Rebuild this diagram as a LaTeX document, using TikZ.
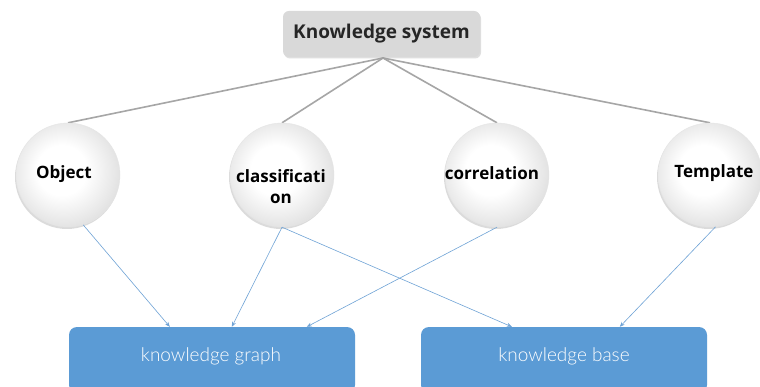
\documentclass[tikz,border=0pt]{standalone}
\usepackage{fontspec}
\setmainfont{Open Sans}
\newfontfamily\lightfont{Lato}[UprightFont=* Light]
\usetikzlibrary{shadows,calc,arrows.meta}
\pgfdeclarelayer{paper}
\pgfdeclarelayer{background}
\pgfsetlayers{paper,background,main}
\pgfdeclareradialshading{orb}{\pgfpoint{-4bp}{3bp}}{%
  color(0bp)=(white); color(12bp)=(white); color(24bp)=(black!9);
  color(30bp)=(black!14); color(50bp)=(black!14)}
\definecolor{rootgray}{HTML}{D9D9D9}
\definecolor{linkgray}{HTML}{A6A6A6}
\definecolor{boxblue}{HTML}{5B9BD5}
\definecolor{arrowblue}{HTML}{6FA3D6}
\definecolor{inktext}{HTML}{262626}
\tikzset{
  rootbox/.style={rectangle, rounded corners=6pt, fill=rootgray,
    minimum width=197pt, minimum height=46pt, text=inktext,
    font=\bfseries\fontsize{19}{23}\selectfont,
    drop shadow={opacity=0.25, shadow xshift=1pt, shadow yshift=-1.5pt}},
  orb/.style={circle, minimum size=104pt, inner sep=0pt, shading=orb,
    draw=black!10, line width=0.4pt,
    drop shadow={opacity=0.28, shadow xshift=-1pt, shadow yshift=-2pt}},
  orbtext/.style={font=\bfseries\fontsize{17}{21}\selectfont, align=center,
    text=black},
  targetbox/.style={rectangle, rounded corners=8pt, fill=boxblue,
    minimum width=286pt, minimum height=66pt},
  targettext/.style={font=\lightfont\fontsize{19}{23}\selectfont, text=white},
  tree/.style={draw=linkgray, line width=1.6pt},
  feed/.style={draw=arrowblue, line width=0.6pt,
    -{Stealth[length=5pt,width=4pt]}},
}
\begin{document}
\begin{tikzpicture}[x=1pt,y=-1pt]
\clip (0,0) rectangle (760,387);
\begin{pgfonlayer}{paper}
\fill[white] (0,0) rectangle (760,387);
\end{pgfonlayer}

% root and hub point of the tree lines
\node[rootbox] (root) at (381.5,34) {Knowledge system};
\coordinate (hub) at (383,58);

% the four concept circles
\node[orb] (obj) at (68,175) {};
\node[orb] (cls) at (282,175) {};
\node[orb] (cor) at (497,175) {};
\node[orb] (tpl) at (710,175) {};
\node[orbtext] (objt) at (64,174) {Object};
\node[orbtext] (clst) at (281,187) {classificati\\on};
\node[orbtext] (cort) at (492,173) {correlation};
\node[orbtext] (tplt) at (714,173) {Template};

% target boxes
\node[targetbox] (kg) at (212,360) {};
\node[targetbox] (kb) at (564,360) {};
\node[targettext] (kgt) at (211,356) {knowledge graph};
\node[targettext] (kbt) at (564,356) {knowledge base};

% tree lines behind the circles
\begin{pgfonlayer}{background}
\draw[tree] (hub) -- (obj.north);
\draw[tree] (hub) -- (cls.north);
\draw[tree] (hub) -- (cor.north);
\draw[tree] (hub) -- (tpl.north);
\end{pgfonlayer}

% feeding arrows
\draw[feed] (obj.-73) -- ([xshift=101pt]kg.north west);
\draw[feed] (cls.south) -- ([xshift=163pt]kg.north west);
\draw[feed] (cls.south) -- ([xshift=91pt]kb.north west);
\draw[feed] (cor.south) -- ([xshift=238pt]kg.north west);
\draw[feed] (tpl.-84) -- ([xshift=199pt]kb.north west);
\end{tikzpicture}
\end{document}
